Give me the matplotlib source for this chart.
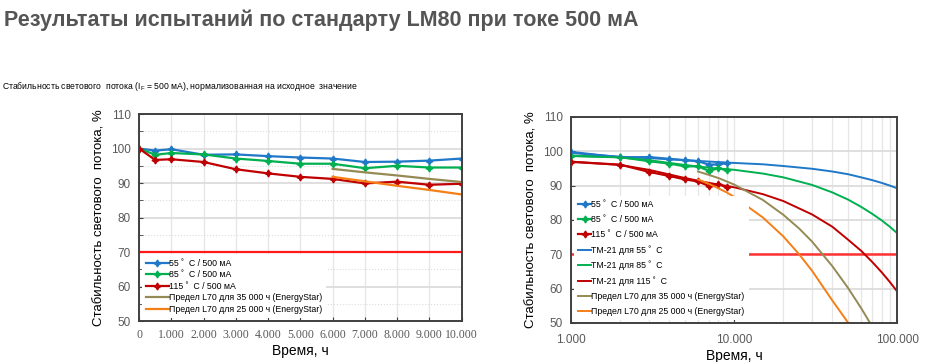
import matplotlib
matplotlib.use("Agg")
import matplotlib.pyplot as plt
from matplotlib.ticker import FuncFormatter, MultipleLocator, LogLocator, NullFormatter, FixedLocator

# measured LM80 points (hours, % of initial flux)
hours = [0, 500, 1000, 2000, 3000, 4000, 5000, 6000, 7000, 8000, 9000, 10000]
flux_55 = [100, 99.4, 99.8, 98.2, 98.3, 97.8, 97.4, 97.1, 96.1, 96.2, 96.5, 97.1]
flux_85 = [100, 98.2, 98.7, 98.3, 97.1, 96.4, 95.6, 95.6, 94.3, 95.0, 94.5, 94.5]
flux_115 = [100, 96.7, 96.9, 96.1, 94.0, 92.8, 91.8, 91.2, 89.9, 90.4, 89.5, 89.8]

# EnergyStar limit curves
lim_hours = [6000, 7000, 8000, 9000, 10000, 15000, 20000, 25000, 30000, 40000, 50000, 60000, 68000]
lim_35k = [94.1, 93.1, 92.2, 91.2, 90.3, 85.8, 81.5, 77.5, 73.7, 66.5, 60.1, 54.3, 50.0]
lim_25k = [91.8, 90.5, 89.2, 88.0, 86.7, 80.7, 75.2, 70.0, 65.2, 56.5, 50.0, 44.0, 38.0]
lim_left_n = 5  # points shown on the linear chart (6000..10000)

# TM-21 projections
tm_hours = [1000, 2000, 3000, 5000, 7000, 10000, 15000, 20000, 30000, 40000,
            50000, 60000, 70000, 80000, 90000, 100000]
tm_55 = [99.5, 98.4, 98.0, 97.4, 97.0, 96.6, 96.2, 95.7, 94.9, 94.1,
         93.3, 92.4, 91.6, 90.8, 90.0, 89.2]
tm_85 = [98.6, 98.2, 97.4, 96.0, 95.2, 94.6, 93.5, 92.4, 90.2, 88.0,
         85.9, 83.8, 81.8, 79.9, 78.0, 76.1]
tm_115 = [97.0, 96.0, 94.6, 92.2, 90.8, 89.5, 87.5, 85.5, 81.6, 78.0,
          74.2, 71.0, 67.8, 64.8, 61.9, 59.1]

l70 = 70

BLUE = "#1f78c8"
GREEN = "#00b050"
RED = "#c00000"
TAN = "#948a54"
ORANGE = "#f57f17"
GRID = "#dcdcdc"
SPINE = "#404040"

plt.rcParams['font.family'] = ['Liberation Sans', 'DejaVu Sans']

fig = plt.figure(figsize=(9.27, 3.62), dpi=100)

fig.text(0.004, 0.975, "Результаты испытаний по стандарту LM80 при токе 500 мА",
         fontsize=15.5, fontweight="bold", color="#555555", va="top", ha="left")
fig.text(0.002, 0.762, "Стабильность светового  потока (I$_\\mathregular{F}$ = 500 мА), нормализованная на исходное  значение",
         fontsize=6.2, color="black", va="center", ha="left")

thousands = FuncFormatter(lambda v, p: "0" if v == 0 else f"{int(round(v)):,}".replace(",", "."))

def style_axes(ax):
    for s in ax.spines.values():
        s.set_color(SPINE)
        s.set_linewidth(1.4)
    ax.set_ylim(50, 110)
    ax.yaxis.set_major_locator(MultipleLocator(10))
    ax.tick_params(axis="y", which="both", direction="in", length=3, color=SPINE,
                   labelsize=8.5, labelcolor="#595959", pad=6)
    ax.tick_params(axis="x", which="both", direction="in", length=3, color=SPINE,
                   labelcolor="#595959", pad=6)
    ax.set_ylabel("Стабильность светового  потока, %", fontsize=9.5, labelpad=4)
    ax.set_xlabel("Время, ч", fontsize=10, labelpad=2)
    ax.set_axisbelow(True)

mk = dict(marker=(4, 1, 0), markersize=5, linewidth=1.6)

# ---- left: linear time axis
ax1 = fig.add_axes([0.150, 0.113, 0.348, 0.572])
style_axes(ax1)
ax1.yaxis.set_minor_locator(MultipleLocator(5))
ax1.grid(True, which="major", axis="y", color=GRID, lw=1.3)
ax1.grid(True, which="minor", axis="y", color=GRID, lw=0.8, ls=":")
ax1.grid(True, which="major", axis="x", color="#e6e6e6", lw=0.9)
ax1.plot(hours, flux_55, color=BLUE, label="55 ˚  C / 500 мА", **mk)
ax1.plot(hours, flux_85, color=GREEN, label="85 ˚  C / 500 мА", **mk)
ax1.plot(hours, flux_115, color=RED, label="115 ˚  C / 500 мА", **mk)
ax1.plot(lim_hours[:lim_left_n], lim_35k[:lim_left_n], color=TAN, lw=1.6,
         label="Предел L70 для 35 000 ч (EnergyStar)")
ax1.plot(lim_hours[:lim_left_n], lim_25k[:lim_left_n], color=ORANGE, lw=1.6,
         label="Предел L70 для 25 000 ч (EnergyStar)")
ax1.axhline(l70, color="#ff1a1a", lw=1.6, zorder=1.5)
ax1.set_xlim(0, 10000)
ax1.xaxis.set_major_locator(MultipleLocator(1000))
ax1.xaxis.set_major_formatter(thousands)
for t in ax1.get_xticklabels():
    t.set_family(['Liberation Serif', 'DejaVu Serif'])
    t.set_fontsize(8.5)
leg1 = ax1.legend(loc="lower left", bbox_to_anchor=(0.0, 0.0), fontsize=6.3,
                  frameon=True, fancybox=False, edgecolor="none", framealpha=1,
                  handlelength=2.6, handletextpad=0.0, labelspacing=0.3,
                  borderpad=0.5, borderaxespad=0.3)
leg1.set_zorder(3)

# ---- right: log time axis
ax2 = fig.add_axes([0.616, 0.108, 0.352, 0.569])
style_axes(ax2)
ax2.set_xscale("log")
ax2.grid(True, which="major", axis="y", color=GRID, lw=1.3)
ax2.grid(True, which="both", axis="x", color="#e6e6e6", lw=0.9)
ax2.plot(hours[2:-1], flux_55[2:-1], color=BLUE, label="55 ˚  C / 500 мА", **mk)
ax2.plot(hours[2:-1], flux_85[2:-1], color=GREEN, label="85 ˚  C / 500 мА", **mk)
ax2.plot(hours[2:-1], flux_115[2:-1], color=RED, label="115 ˚  C / 500 мА", **mk)
ax2.plot(tm_hours, tm_55, color=BLUE, lw=1.4, label="ТМ-21 для 55 ˚  C")
ax2.plot(tm_hours, tm_85, color=GREEN, lw=1.4, label="ТМ-21 для 85 ˚  C")
ax2.plot(tm_hours, tm_115, color=RED, lw=1.4, label="ТМ-21 для 115 ˚  C")
ax2.plot(lim_hours, lim_35k, color=TAN, lw=1.4,
         label="Предел L70 для 35 000 ч (EnergyStar)")
ax2.plot(lim_hours, lim_25k, color=ORANGE, lw=1.4,
         label="Предел L70 для 25 000 ч (EnergyStar)")
ax2.axhline(l70, color="#ff3333", lw=1.8, zorder=1.5)
ax2.set_xlim(1000, 100000)
ax2.xaxis.set_major_locator(FixedLocator([1000, 10000, 100000]))
ax2.xaxis.set_major_formatter(thousands)
ax2.xaxis.set_minor_locator(LogLocator(base=10, subs=range(2, 10)))
ax2.xaxis.set_minor_formatter(NullFormatter())
ax2.tick_params(axis="x", which="minor", length=0)
ax2.tick_params(axis="x", labelsize=8.5, pad=8)
leg2 = ax2.legend(loc="lower left", bbox_to_anchor=(0.0, 0.0), fontsize=6.3,
                  frameon=True, fancybox=False, edgecolor="none", framealpha=1,
                  handlelength=1.5, handletextpad=0.0, labelspacing=0.68,
                  borderpad=0.5, borderaxespad=0.3)
leg2.set_zorder(3)

fig.savefig("out.png", dpi=100)
